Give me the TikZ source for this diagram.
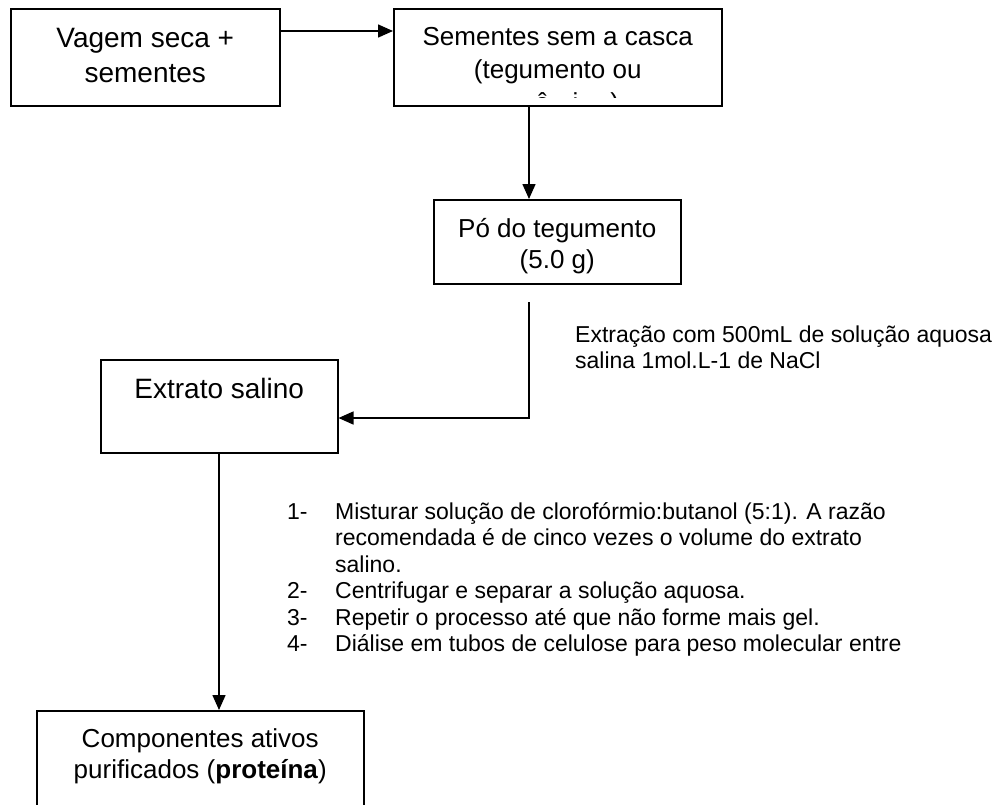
\documentclass[tikz,border=0pt]{standalone}
\usepackage{fontspec}
\setmainfont{Liberation Sans}
\usetikzlibrary{positioning, arrows.meta}
\newcommand{\passo}[1]{\makebox[48pt][l]{#1}}
\newcommand{\recuo}{\hspace*{48pt}}

\begin{document}
\begin{tikzpicture}[x=1pt, y=-1pt,
  caixa/.style={draw, line width=1.5pt, rectangle, inner sep=0pt, anchor=north west, align=center},
  seta/.style={line width=1.5pt, -{Triangle[length=15pt, width=13pt]}},
  grande/.style={font=\fontsize{28pt}{35pt}\selectfont},
  medio/.style={font=\fontsize{26pt}{31pt}\selectfont},
  nota/.style={font=\fontsize{23pt}{26.5pt}\selectfont, align=left, inner sep=0pt, anchor=base west}]
  \clip (0,0) rectangle (998,804);

  \node[caixa, grande, minimum width=269pt, text height=74pt, text depth=23pt] (vagem) at (10,8) {Vagem seca +\\sementes};
  \node[caixa, medio, font=\fontsize{26pt}{33pt}\selectfont, minimum width=328pt, text height=70pt, text depth=27pt] (sementes) at (393,8) {Sementes sem a casca\\(tegumento ou};
  \node[caixa, medio, minimum width=247pt, text height=69pt, text depth=15pt] (po) at (433,199) {Pó do tegumento\\(5.0 g)};
  \node[caixa, grande, minimum width=237pt, text height=39pt, text depth=54pt] (extrato) at (100,359) {Extrato salino};
  \node[caixa, medio, minimum width=327pt, text height=68pt, text depth=82pt] (componentes) at (36,710) {Componentes ativos\\purificados (\textbf{proteína})};

  \begin{scope}
    \clip (sementes.north west) rectangle ([yshift=9pt]sementes.south east);
    \node[medio, inner sep=0pt, anchor=base west] (resto) at (535,111) {ê\hspace{23pt}i\hspace{32pt})};
  \end{scope}

  \node[nota] (extracao) at (575,368.5) {Extração com 500mL de solução aquosa\\salina 1mol.L-1 de NaCl};
  \node[nota] (passos) at (287,651.5) {\passo{1-}Misturar solução de clorofórmio:butanol (5:1). A razão\\
    \recuo recomendada é de cinco vezes o volume do extrato\\
    \recuo salino.\\
    \passo{2-}Centrifugar e separar a solução aquosa.\\
    \passo{3-}Repetir o processo até que não forme mais gel.\\
    \passo{4-}Diálise em tubos de celulose para peso molecular entre};

  \coordinate (inicio) at (529,302);
  \draw[seta] ([yshift=-23pt]vagem.north east) -- ([yshift=-23pt]sementes.north west);
  \draw[seta] ([xshift=136pt]sementes.south west) -- ([xshift=96pt]po.north west);
  \draw[seta] (inicio) |- ([yshift=-59pt]extrato.north east);
  \draw[seta] ([xshift=119pt]extrato.south west) -- ([xshift=183pt]componentes.north west);
\end{tikzpicture}
\end{document}
